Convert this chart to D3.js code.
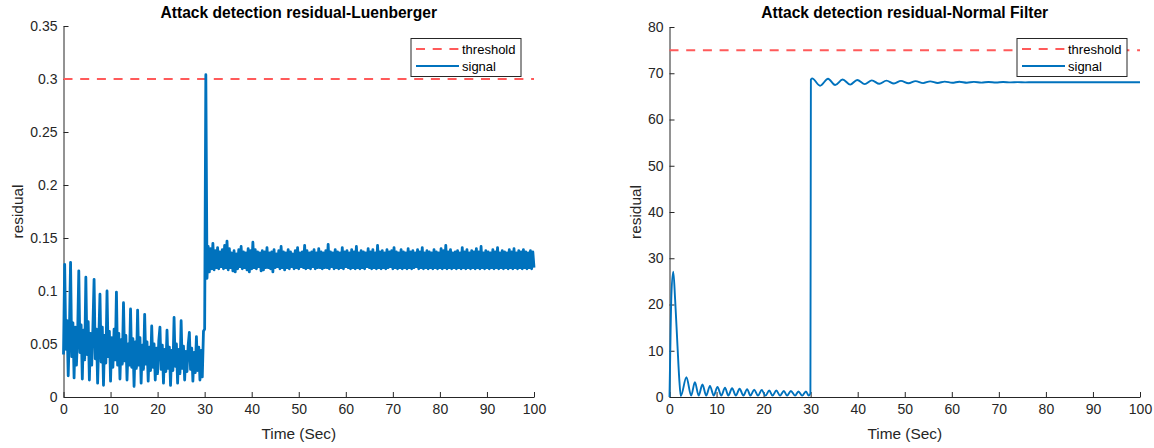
<!DOCTYPE html>
<html>
<head>
<meta charset="utf-8">
<script src="https://cdn.jsdelivr.net/npm/d3@7"></script>
<style>
  html, body { margin: 0; padding: 0; background: #ffffff; }
  svg { display: block; font-family: "Liberation Sans", Arial, Helvetica, sans-serif; }
</style>
</head>
<body>
<svg id="chart" width="1154" height="448"></svg>
<script>
// ---------------- data ----------------
const panelTitles = ["Attack detection residual-Luenberger", "Attack detection residual-Normal Filter"];
const xAxisLabel = "Time (Sec)";
const yAxisLabel = "residual";
const legendLabels = ["threshold", "signal"];

const timeTicks = [0, 10, 20, 30, 40, 50, 60, 70, 80, 90, 100];
const luenbergerTicks = [0, 0.05, 0.1, 0.15, 0.2, 0.25, 0.3, 0.35];
const normalFilterTicks = [0, 10, 20, 30, 40, 50, 60, 70, 80];

const luenbergerThreshold = 0.3;
const normalFilterThreshold = 75;

// Luenberger observer residual, sampled every 0.25 s from t = 0 to t = 100
const luenbergerStep = 0.25;
const luenbergerResidual = [
  // 0 - 30.5 s : decaying oscillation, then the attack spike at ~30.2 s
  0.040,0.125,0.045,0.072,0.020,0.060,0.127,0.038,0.070,0.018,
  0.066,0.030,0.058,0.119,0.042,0.068,0.017,0.063,0.035,0.113,
  0.040,0.071,0.016,0.060,0.030,0.066,0.111,0.036,0.064,0.013,
  0.055,0.097,0.033,0.066,0.011,0.058,0.032,0.100,0.038,0.062,
  0.015,0.056,0.028,0.064,0.035,0.099,0.030,0.060,0.017,0.054,
  0.031,0.089,0.034,0.058,0.016,0.050,0.030,0.083,0.028,0.055,
  0.010,0.052,0.027,0.082,0.030,0.056,0.013,0.049,0.026,0.078,
  0.031,0.052,0.015,0.047,0.025,0.067,0.028,0.050,0.016,0.046,
  0.022,0.053,0.066,0.026,0.049,0.013,0.045,0.024,0.063,0.027,
  0.047,0.011,0.044,0.025,0.075,0.029,0.050,0.013,0.045,0.022,
  0.072,0.027,0.048,0.016,0.043,0.024,0.049,0.061,0.026,0.046,
  0.015,0.042,0.023,0.057,0.025,0.047,0.016,0.044,0.019,0.062,
  0.064,0.304,0.112,
  // 30.75 - 100 s : steady band after the attack
  0.142,0.118,0.140,0.121,0.145,0.120,0.138,0.122,0.141,0.121,
  0.137,0.123,0.139,0.121,0.143,0.122,0.147,0.120,0.140,0.122,
  0.136,0.119,0.138,0.118,0.135,0.121,0.139,0.123,0.142,0.121,
  0.137,0.122,0.136,0.120,0.140,0.118,0.138,0.121,0.146,0.122,
  0.139,0.121,0.137,0.123,0.136,0.119,0.138,0.120,0.137,0.122,
  0.141,0.122,0.136,0.121,0.137,0.118,0.139,0.122,0.135,0.123,
  0.138,0.121,0.142,0.122,0.137,0.120,0.136,0.122,0.139,0.121,
  0.137,0.123,0.135,0.121,0.138,0.122,0.141,0.121,0.136,0.123,
  0.137,0.122,0.143,0.121,0.138,0.122,0.136,0.121,0.137,0.123,
  0.139,0.121,0.136,0.122,0.140,0.122,0.137,0.121,0.136,0.122,
  0.138,0.122,0.144,0.121,0.137,0.123,0.136,0.121,0.139,0.122,
  0.137,0.121,0.136,0.122,0.141,0.121,0.137,0.123,0.138,0.122,
  0.136,0.121,0.139,0.122,0.137,0.121,0.142,0.122,0.136,0.121,
  0.138,0.122,0.137,0.121,0.136,0.123,0.140,0.122,0.137,0.121,
  0.139,0.122,0.136,0.121,0.143,0.122,0.137,0.121,0.138,0.122,
  0.136,0.121,0.139,0.122,0.137,0.123,0.138,0.121,0.141,0.122,
  0.137,0.121,0.136,0.122,0.139,0.121,0.137,0.122,0.136,0.121,
  0.140,0.122,0.137,0.121,0.138,0.122,0.136,0.123,0.139,0.121,
  0.137,0.122,0.141,0.121,0.136,0.122,0.138,0.121,0.137,0.122,
  0.136,0.121,0.139,0.122,0.137,0.121,0.136,0.122,0.140,0.121,
  0.138,0.122,0.143,0.121,0.137,0.122,0.139,0.121,0.136,0.122,
  0.137,0.121,0.138,0.122,0.136,0.121,0.141,0.122,0.137,0.121,
  0.139,0.122,0.136,0.121,0.138,0.122,0.137,0.121,0.140,0.122,
  0.137,0.121,0.142,0.122,0.136,0.121,0.138,0.122,0.137,0.121,
  0.136,0.122,0.139,0.121,0.137,0.122,0.141,0.121,0.136,0.122,
  0.138,0.121,0.137,0.122,0.136,0.121,0.139,0.122,0.137,0.121,
  0.140,0.122,0.136,0.121,0.138,0.122,0.137,0.121,0.139,0.122,
  0.137,0.121,0.136,0.122,0.138,0.121,0.137,0.122
];

// Normal filter residual: time stamps (s) and values at its turning points
const normalFilterTime = [
  0, 0.15, 0.4, 0.8, 1.2, 1.7, 2.1, 2.4,
  3.6, 4.6, 5.4, 6.2, 7.0, 7.8, 8.6, 9.4, 10.2, 11.0, 11.8, 12.5,
  13.3, 14.1, 14.9, 15.7, 16.5, 17.2, 18.0, 18.8, 19.6, 20.4,
  21.2, 21.9, 22.7, 23.5, 24.3, 25.0, 25.8, 26.7, 27.4, 28.2,
  29.0, 29.6, 29.95, 30.05,
  30.3, 32.0, 33.7, 35.2, 36.8, 38.4, 39.9, 41.5, 43.0, 44.6,
  46.1, 47.7, 49.2, 50.8, 52.3, 53.9, 55.4, 57.0, 58.5, 60.1,
  61.6, 63.2, 64.7, 66.3, 67.8, 69.4, 70.9, 72.5, 74.0, 75.6,
  77.1, 100
];
const normalFilterResidual = [
  0, 9, 22, 27.1, 21, 11, 3.5, 0.2,
  4.3, 0.3, 3.2, 0.3, 2.7, 0.3, 2.4, 0.3, 2.2, 0.3, 2.0, 0.3,
  1.9, 0.3, 1.8, 0.3, 1.7, 0.3, 1.6, 0.3, 1.5, 0.3,
  1.4, 0.3, 1.4, 0.3, 1.3, 0.3, 1.3, 0.3, 1.2, 0.3,
  1.2, 0.3, 0.8, 68.6,
  68.9, 67.3, 68.8, 67.45, 68.65, 67.55, 68.55, 67.65, 68.45, 67.72,
  68.4, 67.78, 68.35, 67.83, 68.3, 67.87, 68.25, 67.9, 68.2, 67.93,
  68.17, 67.96, 68.14, 67.98, 68.12, 68.0, 68.1, 68.02, 68.08, 68.03,
  68.06, 68.05
];

// ---------------- styling ----------------
const signalColor = "#0072BD";
const thresholdColor = "#FF5A5A";
const axisColor = "#262626";
const dashPattern = "9,7.7";

const svg = d3.select("#chart");

const luenbergerPoints = luenbergerResidual.map((v, i) => [i * luenbergerStep, v]);
const normalFilterPoints = normalFilterTime.map((t, i) => [t, normalFilterResidual[i]]);

const panels = [
  { title: panelTitles[0], left: 63.5, right: 534, top: 26, bottom: 397,
    yDomain: [0, 0.35], yTicks: luenbergerTicks, threshold: luenbergerThreshold,
    points: luenbergerPoints, curve: d3.curveLinear, signalWidth: 2.8, ylabelX: 23 },
  { title: panelTitles[1], left: 669.5, right: 1140, top: 27, bottom: 397,
    yDomain: [0, 80], yTicks: normalFilterTicks, threshold: normalFilterThreshold,
    points: normalFilterPoints, curve: d3.curveMonotoneX, signalWidth: 1.9, ylabelX: 641 }
];

function styleAxis(g) {
  g.attr("font-family", null).attr("font-size", null);
  g.select(".domain").attr("stroke", axisColor).attr("stroke-width", 1);
  g.selectAll(".tick line").attr("stroke", axisColor).attr("stroke-width", 1);
  g.selectAll(".tick text").attr("fill", axisColor).style("font-size", "14px");
}

panels.forEach(p => {
  const x = d3.scaleLinear().domain([0, 100]).range([p.left, p.right]);
  const y = d3.scaleLinear().domain(p.yDomain).range([p.bottom, p.top]);
  const g = svg.append("g");

  // axes (ticks point inward, no box)
  g.append("g")
    .attr("transform", `translate(0,${p.bottom})`)
    .call(d3.axisBottom(x).tickValues(timeTicks).tickFormat(d => String(d))
      .tickSizeInner(-5).tickSizeOuter(0).tickPadding(7))
    .call(styleAxis);
  g.append("g")
    .attr("transform", `translate(${p.left},0)`)
    .call(d3.axisLeft(y).tickValues(p.yTicks).tickFormat(d => String(d))
      .tickSizeInner(-5).tickSizeOuter(0).tickPadding(6))
    .call(styleAxis);

  // threshold line
  g.append("line")
    .attr("x1", x(0)).attr("x2", x(100))
    .attr("y1", y(p.threshold)).attr("y2", y(p.threshold))
    .attr("stroke", thresholdColor).attr("stroke-width", 2)
    .attr("stroke-dasharray", dashPattern);

  // residual signal
  g.append("path")
    .datum(p.points)
    .attr("fill", "none")
    .attr("stroke", signalColor)
    .attr("stroke-width", p.signalWidth)
    .attr("stroke-linejoin", "round")
    .attr("d", d3.line().x(d => x(d[0])).y(d => y(d[1])).curve(p.curve));

  // title
  g.append("text")
    .attr("x", (p.left + p.right) / 2).attr("y", 18)
    .attr("text-anchor", "middle")
    .style("font-size", "15.6px").style("font-weight", "bold")
    .attr("fill", "#000")
    .text(p.title);

  // axis labels
  g.append("text")
    .attr("x", (p.left + p.right) / 2).attr("y", 439)
    .attr("text-anchor", "middle")
    .style("font-size", "15.4px")
    .attr("fill", axisColor)
    .text(xAxisLabel);
  g.append("text")
    .attr("transform", `translate(${p.ylabelX},${(p.top + p.bottom) / 2}) rotate(-90)`)
    .attr("text-anchor", "middle")
    .style("font-size", "15.4px")
    .attr("fill", axisColor)
    .text(yAxisLabel);

  // legend
  const lg = g.append("g").attr("transform", `translate(${p.right - 123},38.5)`);
  lg.append("rect")
    .attr("width", 110).attr("height", 38)
    .attr("fill", "#fff").attr("stroke", axisColor).attr("stroke-width", 1);
  const rows = [
    { label: legendLabels[0], color: thresholdColor, dash: dashPattern, width: 2 },
    { label: legendLabels[1], color: signalColor, dash: null, width: 1.9 }
  ];
  rows.forEach((r, i) => {
    const ry = 10.5 + i * 17;
    lg.append("line")
      .attr("x1", 5).attr("x2", 48).attr("y1", ry).attr("y2", ry)
      .attr("stroke", r.color).attr("stroke-width", r.width)
      .attr("stroke-dasharray", r.dash);
    lg.append("text")
      .attr("x", 51).attr("y", ry).attr("dy", "0.35em")
      .style("font-size", "13px").attr("fill", "#000")
      .text(r.label);
  });
});
</script>
</body>
</html>
